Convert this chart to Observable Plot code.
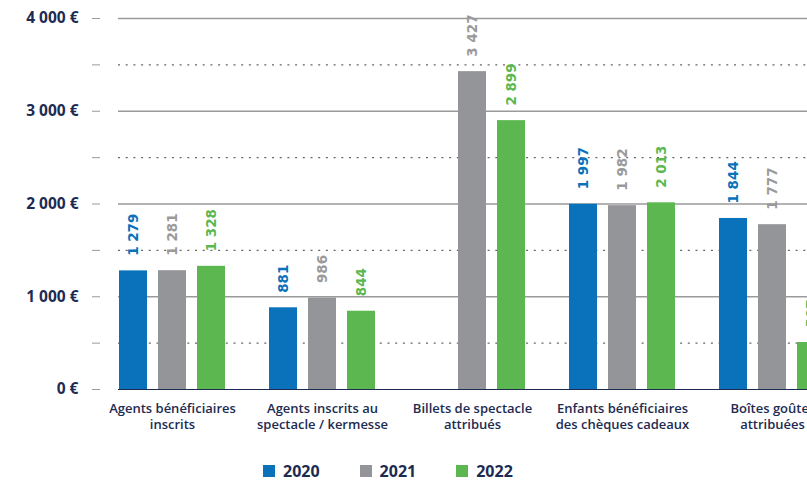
<!DOCTYPE html>
<html>
<head>
<meta charset="utf-8">
<script src="https://cdn.jsdelivr.net/npm/d3@7"></script>
<script src="https://cdn.jsdelivr.net/npm/@observablehq/plot@0.6"></script>
<style>
  html, body { margin: 0; padding: 0; background: #fff; overflow: hidden; }
  #wrap { width: 807px; height: 481px; overflow: hidden; position: relative; }
  #chart { width: 860px; }
  #legend { position: absolute; left: 263px; top: 461px; display: flex; align-items: center; line-height: 20px;
    font-family: "Open Sans", sans-serif; font-weight: 700; font-size: 16px; color: #1d2b52; }
  .item { display: flex; align-items: center; margin-right: 40px; }
  .sw { width: 12px; height: 12px; margin-right: 8px; }
</style>
</head>
<body>
<div id="wrap">
  <div id="chart"></div>
  <div id="legend"></div>
</div>
<script>
const categories = [
  "Agents bénéficiaires\ninscrits",
  "Agents inscrits au\nspectacle / kermesse",
  "Billets de spectacle\nattribués",
  "Enfants bénéficiaires\ndes chèques cadeaux",
  "Boîtes goûter\nattribuées"
];
const years = ["2020", "2021", "2022"];
const values2020 = [1279, 881, null, 1997, 1844];
const values2021 = [1281, 986, 3427, 1982, 1777];
const values2022 = [1328, 844, 2899, 2013, 507];
const yTicks = [0, 500, 1000, 1500, 2000, 2500, 3000, 3500, 4000];
const colors = ["#0a72ba", "#939598", "#5db751"];
const labelColors = ["#0a72ba", "#9a9a9a", "#5db751"];

const seriesValues = [values2020, values2021, values2022];
const rows = [];
years.forEach((yr, s) => categories.forEach((c, i) => {
  if (seriesValues[s][i] != null) rows.push({cat: c, year: yr, s, value: seriesValues[s][i]});
}));

const fr = d3.formatLocale({decimal: ",", thousands: " ", grouping: [3], currency: ["", " €"]});
const fmt = fr.format(",d");
const navy = "#1d2b52";

const insets = [[0, 78], [39, 39], [78, 0]];
const offsets = [-39, 0, 39];

const marks = [
  Plot.ruleY(yTicks.filter(d => d > 0 && d % 1000 === 0), {insetLeft: 18, stroke: "#9a9a9a", strokeWidth: 1.5}),
  Plot.ruleY(yTicks.filter(d => d % 1000 !== 0), {insetLeft: 18, stroke: "#666", strokeWidth: 1.3, strokeDasharray: "2,5.7"}),
  Plot.axisY({ticks: yTicks, tickSize: 8, tickPadding: 14, label: null,
    tickFormat: d => d % 1000 ? "" : fmt(d) + " €",
    stroke: "#999", fill: navy, fontSize: 15.5, fontWeight: 700}),
  Plot.axisX({tickSize: 0, tickPadding: 12, label: null, fill: navy, fontSize: 13, fontWeight: 600, lineHeight: 1.25})
];
years.forEach((yr, s) => {
  const d = rows.filter(r => r.s === s);
  marks.push(Plot.barY(d, {x: "cat", y: "value", fill: colors[s], insetLeft: insets[s][0], insetRight: insets[s][1]}));
});
marks.push(Plot.ruleY([0], {insetLeft: 18, stroke: navy, strokeWidth: 1.2}));
years.forEach((yr, s) => {
  const d = rows.filter(r => r.s === s);
  marks.push(Plot.text(d, {x: "cat", y: "value", text: r => fmt(r.value), rotate: -90, textAnchor: "start",
    dy: -15, dx: offsets[s], fill: labelColors[s], fontSize: 13.5, fontWeight: 700, fontFamily: "DejaVu Sans"}));
});

const chart = Plot.plot({
  width: 860,
  height: 440,
  marginLeft: 100,
  marginRight: 0,
  marginTop: 18,
  marginBottom: 51,
  style: {fontFamily: "Open Sans, sans-serif", background: "#fff", overflow: "visible"},
  x: {domain: categories, range: [118, 826], paddingInner: 0.2957, paddingOuter: 0},
  y: {domain: [0, 4000]},
  marks
});
document.getElementById("chart").appendChild(chart);

const legend = document.getElementById("legend");
years.forEach((yr, s) => {
  const it = document.createElement("div");
  it.className = "item";
  it.innerHTML = `<span class="sw" style="background:${colors[s]}"></span><span>${yr}</span>`;
  legend.appendChild(it);
});
</script>
</body>
</html>
